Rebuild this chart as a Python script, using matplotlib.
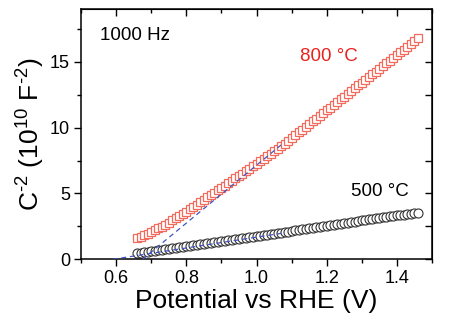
import matplotlib
matplotlib.use("Agg")
import matplotlib.pyplot as plt
from matplotlib.ticker import MultipleLocator

plt.rcParams['font.family'] = ['Liberation Sans', 'DejaVu Sans']
plt.rcParams['mathtext.fontset'] = 'custom'
plt.rcParams['mathtext.rm'] = 'Liberation Sans'
plt.rcParams['mathtext.it'] = 'Liberation Sans'

potential = [0.66, 0.67, 0.68, 0.69, 0.70, 0.71, 0.72, 0.73, 0.74, 0.75,
             0.76, 0.77, 0.78, 0.79, 0.80, 0.81, 0.82, 0.83, 0.84, 0.85,
             0.86, 0.87, 0.88, 0.89, 0.90, 0.91, 0.92, 0.93, 0.94, 0.95,
             0.96, 0.97, 0.98, 0.99, 1.00, 1.01, 1.02, 1.03, 1.04, 1.05,
             1.06, 1.07, 1.08, 1.09, 1.10, 1.11, 1.12, 1.13, 1.14, 1.15,
             1.16, 1.17, 1.18, 1.19, 1.20, 1.21, 1.22, 1.23, 1.24, 1.25,
             1.26, 1.27, 1.28, 1.29, 1.30, 1.31, 1.32, 1.33, 1.34, 1.35,
             1.36, 1.37, 1.38, 1.39, 1.40, 1.41, 1.42, 1.43, 1.44, 1.45,
             1.46]

c2_800 = [1.60, 1.71, 1.83, 1.95, 2.08, 2.21, 2.35, 2.49, 2.64, 2.79,
          2.95, 3.11, 3.28, 3.45, 3.62, 3.80, 3.98, 4.16, 4.34, 4.52,
          4.70, 4.88, 5.06, 5.24, 5.42, 5.60, 5.78, 5.96, 6.14, 6.32,
          6.50, 6.68, 6.86, 7.05, 7.24, 7.43, 7.62, 7.81, 8.00, 8.19,
          8.38, 8.58, 8.79, 9.00, 9.21, 9.42, 9.63, 9.84, 10.05, 10.26,
          10.47, 10.68, 10.89, 11.10, 11.31, 11.52, 11.73, 11.94, 12.15, 12.36,
          12.57, 12.78, 12.99, 13.20, 13.41, 13.62, 13.83, 14.04, 14.25, 14.46,
          14.67, 14.88, 15.09, 15.30, 15.51, 15.72, 15.93, 16.14, 16.35, 16.56,
          16.77]

c2_500 = [0.45, 0.48, 0.52, 0.56, 0.60, 0.64, 0.68, 0.72, 0.76, 0.80,
          0.84, 0.87, 0.91, 0.95, 0.99, 1.03, 1.07, 1.11, 1.15, 1.18,
          1.22, 1.26, 1.30, 1.34, 1.38, 1.42, 1.45, 1.49, 1.53, 1.57,
          1.61, 1.65, 1.68, 1.72, 1.76, 1.80, 1.84, 1.88, 1.91, 1.95,
          1.99, 2.03, 2.07, 2.11, 2.15, 2.19, 2.23, 2.27, 2.31, 2.35,
          2.39, 2.43, 2.47, 2.51, 2.55, 2.59, 2.63, 2.67, 2.71, 2.75,
          2.79, 2.83, 2.87, 2.91, 2.95, 2.99, 3.03, 3.06, 3.10, 3.14,
          3.18, 3.22, 3.26, 3.29, 3.33, 3.36, 3.40, 3.43, 3.47, 3.50,
          3.54]

fit800_x = [0.675, 1.07]
fit800_y = [0.0, 8.68]
fit500_x = [0.59, 1.07]
fit500_y = [0.0, 1.97]

fig = plt.figure(figsize=(4.5, 3.31), dpi=100)
ax = fig.add_axes([0.18, 0.2166, 0.78, 0.756])

ax.plot(potential, c2_800, linestyle='none', marker='s', markersize=6.0,
        markerfacecolor='white', markeredgecolor='#f26a5c', markeredgewidth=0.9, zorder=2)
ax.plot(potential, c2_500, linestyle='none', marker='o', markersize=6.5,
        markerfacecolor='white', markeredgecolor='#333333', markeredgewidth=0.8, zorder=2)
ax.plot(fit800_x, fit800_y, linestyle=(0, (4, 3)), color='#4455c0', linewidth=0.9, zorder=3)
ax.plot(fit500_x, fit500_y, linestyle=(0, (4, 3)), color='#4455c0', linewidth=0.9, zorder=3)

ax.set_xlim(0.5, 1.5)
ax.set_ylim(0, 19)
ax.xaxis.set_minor_locator(MultipleLocator(0.1))
ax.yaxis.set_major_locator(MultipleLocator(5))
ax.yaxis.set_minor_locator(MultipleLocator(2.5))
ax.set_xticks([0.6, 0.8, 1.0, 1.2, 1.4])
ax.set_xticklabels(['0.6', '0.8', '1.0', '1.2', '1.4'])

for s in ax.spines.values():
    s.set_linewidth(1.1)
ax.tick_params(axis='both', which='major', direction='out', length=5, width=1.0,
               labelsize=13, pad=3)
ax.tick_params(axis='both', which='minor', direction='out', length=3, width=1.0)

# inward ticks on top and right
ax2 = ax.secondary_xaxis('top')
ax2.xaxis.set_minor_locator(MultipleLocator(0.1))
ax2.set_xticks([0.6, 0.8, 1.0, 1.2, 1.4])
ax2.set_xticklabels([])
ax2.tick_params(which='major', direction='in', length=5, width=1.0, labeltop=False)
ax2.tick_params(which='minor', direction='in', length=3, width=1.0)
ax3 = ax.secondary_yaxis('right')
ax3.yaxis.set_major_locator(MultipleLocator(5))
ax3.yaxis.set_minor_locator(MultipleLocator(2.5))
ax3.tick_params(which='major', direction='in', length=5, width=1.0, labelright=False)
ax3.tick_params(which='minor', direction='in', length=5, width=1.0)

ax.set_xlabel('Potential vs RHE (V)', fontsize=19, labelpad=1)
ax.set_ylabel(r'C$^{\text{-}2}$ (10$^{10}$ F$^{\text{-}2}$)', fontsize=19, labelpad=2)

ax.text(0.555, 17.0, '1000 Hz', fontsize=13.5, color='black', va='center', ha='left')
ax.text(1.125, 15.4, '800 \u00b0C', fontsize=13.5, color='#e8231e', va='center', ha='left')
ax.text(1.27, 5.15, '500 \u00b0C', fontsize=13.5, color='black', va='center', ha='left')

fig.savefig('out.png', dpi=100)
